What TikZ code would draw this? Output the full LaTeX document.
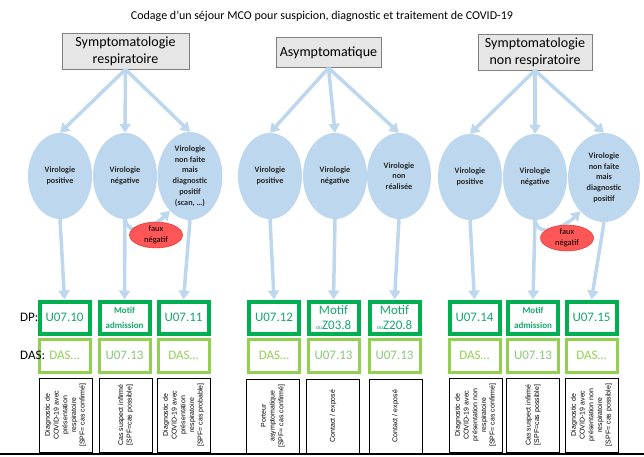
\documentclass[tikz,border=0pt]{standalone}
\usepackage{fontspec}
\setmainfont{Carlito}
\newfontfamily\arialf{Liberation Sans}
\usetikzlibrary{arrows.meta,shapes.geometric}
\definecolor{lblue}{HTML}{BDD7EE}
\definecolor{dgreen}{HTML}{00B050}
\definecolor{lgreen}{HTML}{92D050}
\definecolor{tgreen}{HTML}{13A86A}
\definecolor{ugreen}{HTML}{86C878}
\definecolor{boxgray}{HTML}{E7E6E6}
\definecolor{boxline}{HTML}{7F7F7F}
\definecolor{redfill}{HTML}{FF5757}
\definecolor{redline}{HTML}{E03A3A}
\begin{document}
\begin{tikzpicture}[x=1pt,y=-1pt,
  topbox/.style={draw=boxline, fill=boxgray, line width=0.8pt, align=center, inner sep=0pt,
     font=\fontsize{14}{17}\selectfont},
  ell/.style={ellipse, fill=lblue, inner sep=0pt, minimum width=64pt, minimum height=86pt,
     align=center, text=black!85, font=\fontsize{8.2}{10.7}\selectfont\bfseries},
  redell/.style={ellipse, fill=redfill, draw=redline, line width=0.6pt, minimum width=53pt,
     minimum height=23pt, inner sep=0pt, align=center, font=\fontsize{8.5}{11}\selectfont},
  dpbox/.style={draw=dgreen, line width=4pt, minimum width=50pt, minimum height=32pt,
     inner sep=0pt, align=center, text=tgreen, font=\fontsize{13}{15}\selectfont},
  dasbox/.style={draw=lgreen, line width=3pt, minimum width=51pt, minimum height=33pt,
     inner sep=0pt, align=center, text=lgreen, font=\fontsize{13}{15}\selectfont},
  notebox/.style={draw=black, line width=0.9pt, minimum width=53pt, minimum height=74pt, inner sep=0pt},
  notetext/.style={rotate=90, align=center, inner sep=0pt, font=\arialf\fontsize{7}{8.7}\selectfont},
  arr/.style={draw=lblue, line width=3.5pt, -{Triangle[width=11pt,length=9pt]}},
  lbl/.style={anchor=west, inner sep=0pt, font=\fontsize{13}{15}\selectfont},
  motifsmall/.style={font=\fontsize{9}{11}\selectfont\bfseries}
]
\useasboundingbox (0,0) rectangle (644,456);

% title
\node[font=\fontsize{12}{14}\selectfont] (title) at (322,16) {Codage d’un séjour MCO pour suspicion, diagnostic et traitement de COVID-19};

% top boxes
\node[topbox, minimum width=127pt, minimum height=36pt] (t1) at (125.5,51) {Symptomatologie\\respiratoire};
\node[topbox, minimum width=105pt, minimum height=30pt] (t2) at (328.5,52.5) {Asymptomatique};
\node[topbox, minimum width=114pt, minimum height=36pt] (t3) at (535,52) {Symptomatologie\\non respiratoire};

% ellipses
\node[ell] (e1) at (60,176) {Virologie\\positive};
\node[ell] (e2) at (125,176) {Virologie\\négative};
\node[ell, minimum width=65pt, minimum height=88pt] (e3) at (190,176) {Virologie\\non faite\\mais\\diagnostic\\positif\\(scan, …)};
\node[ell] (e4) at (270,176) {Virologie\\positive};
\node[ell] (e5) at (335,176) {Virologie\\négative};
\node[ell] (e6) at (399,176) {Virologie\\non\\réalisée};
\node[ell] (e7) at (470,177) {Virologie\\positive};
\node[ell] (e8) at (535,177) {Virologie\\négative};
\node[ell, minimum width=72pt, minimum height=89pt] (e9) at (604,177.5) {Virologie\\non faite\\mais\\diagnostic\\positif};

% DP boxes
\node[dpbox] (d1) at (64.5,317.5) {U07.10};
\node[dpbox] (d2) at (124.5,317.5) {\fontsize{9}{11}\selectfont\bfseries Motif\\\fontsize{9}{11}\selectfont\bfseries admission};
\node[dpbox] (d3) at (183.5,317.5) {U07.11};
\node[dpbox] (d4) at (274,317.5) {U07.12};
\node[dpbox] (d5) at (333.5,317.5) {Motif\\{\fontsize{6}{7}\selectfont ou}Z03.8};
\node[dpbox] (d6) at (394.5,317.5) {Motif\\{\fontsize{6}{7}\selectfont ou}Z20.8};
\node[dpbox] (d7) at (474.5,317.5) {U07.14};
\node[dpbox] (d8) at (533,317.5) {\fontsize{9}{11}\selectfont\bfseries Motif\\\fontsize{9}{11}\selectfont\bfseries admission};
\node[dpbox] (d9) at (591.5,317.5) {U07.15};

% DAS boxes
\node[dasbox] (s1) at (64.5,355.5) {DAS…};
\node[dasbox, text=ugreen] (s2) at (124.5,355.5) {U07.13};
\node[dasbox] (s3) at (183.5,355.5) {DAS…};
\node[dasbox] (s4) at (274,355.5) {DAS…};
\node[dasbox, text=ugreen] (s5) at (333.5,355.5) {U07.13};
\node[dasbox, text=ugreen] (s6) at (394.5,355.5) {U07.13};
\node[dasbox] (s7) at (474.5,355.5) {DAS…};
\node[dasbox, text=ugreen] (s8) at (533,355.5) {U07.13};
\node[dasbox] (s9) at (591.5,355.5) {DAS…};

% labels
\node[lbl] (ldp) at (20,317) {DP:};
\node[lbl] (ldas) at (20,355) {DAS:};

% note boxes
\node[notebox] (n1) at (65.5,415) {};
\node[notebox] (n2) at (125.5,415) {};
\node[notebox] (n3) at (183.5,415) {};
\node[notebox] (n4) at (273,416) {};
\node[notebox] (n5) at (333,416) {};
\node[notebox] (n6) at (395.5,416) {};
\node[notebox] (n7) at (475.5,415) {};
\node[notebox] (n8) at (533,415) {};
\node[notebox] (n9) at (591.5,415) {};
\node[notetext] (m1) at (n1) {Diagnostic de\\COVID-19 avec\\présentation\\respiratoire\\{[SPF= cas confirmé]}};
\node[notetext] (m2) at (n2) {Cas suspect infirmé\\{[SPF=cas possible]}};
\node[notetext] (m3) at (n3) {Diagnostic de\\COVID-19 avec\\présentation\\respiratoire\\{[SPF= cas probable]}};
\node[notetext] (m4) at (n4) {Porteur\\asymptomatique\\{[SPF= cas confirmé]}};
\node[notetext] (m5) at (n5) {Contact / exposé};
\node[notetext] (m6) at (n6) {Contact / exposé};
\node[notetext] (m7) at (n7) {Diagnostic de\\COVID-19 avec\\présentation non\\respiratoire\\{[SPF= cas confirmé]}};
\node[notetext] (m8) at (n8) {Cas suspect infirmé\\{[SPF=cas possible]}};
\node[notetext] (m9) at (n9) {Diagnostic de\\COVID-19 avec\\présentation non\\respiratoire\\{[SPF= cas possible]}};

% arrows top -> ellipses
\foreach \t/\e in {t1/e1,t1/e2,t1/e3,t2/e4,t2/e5,t2/e6,t3/e7,t3/e8,t3/e9}
  \draw[arr] (\t.south) -- (\e.north);
% ellipses -> DP
\foreach \e/\d in {e1/d1,e2/d2,e3/d3,e4/d4,e5/d5,e6/d6,e7/d7,e8/d8,e9/d9}
  \draw[arr] (\e.south) -- (\d.north);
% curved arrows (faux negatif)
\draw[arr] (e2.south) .. controls +(4,20) and +(-14,14) .. (e3.-120);
\draw[arr] (e8.south) .. controls +(4,20) and +(-14,14) .. (e9.-125);

\node[redell] (r1) at (156,235) {faux\\négatif};
\node[redell] (r2) at (567,238) {faux\\négatif};

% bottom border line
\draw[line width=2pt] (0,454) -- (644,454);
\end{tikzpicture}
\end{document}
